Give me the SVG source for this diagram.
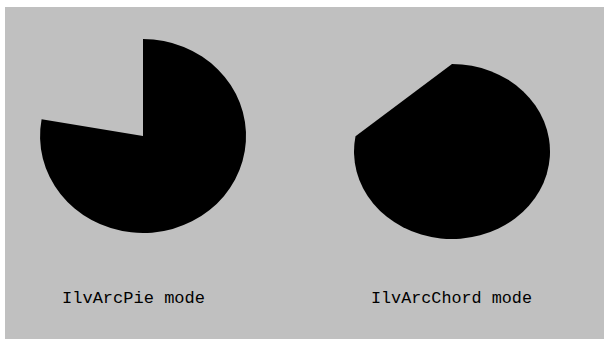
<svg xmlns="http://www.w3.org/2000/svg" width="604" height="339" viewBox="0 0 604 339">
<style>
.shape{fill:#000;stroke:none}
.lbl{font-family:"Liberation Mono","Courier New",monospace;font-size:17px;fill:#000}
</style>
<rect x="0" y="0" width="604" height="339" fill="#ffffff"/>
<rect x="5" y="7" width="599" height="332" fill="#c0c0c0"/>
<g id="pie">
<path class="shape" d="M143,136 L41.6,119.2 A103,97 0 1 0 143,39 Z"/>
</g>
<g id="chord">
<path class="shape" d="M355.5,136.3 A98,87.5 0 1 0 452,64 Z"/>
</g>
<g id="labels">
<text class="lbl" x="62" y="303" textLength="143" lengthAdjust="spacingAndGlyphs">IlvArcPie mode</text>
<text class="lbl" x="371" y="303" textLength="161" lengthAdjust="spacingAndGlyphs">IlvArcChord mode</text>
</g>
</svg>
